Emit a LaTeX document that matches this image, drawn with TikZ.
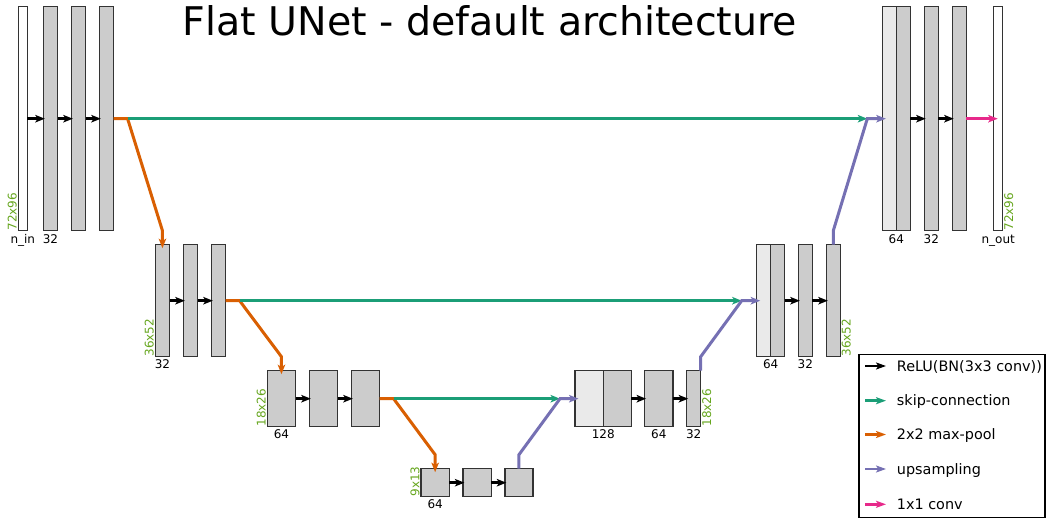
\documentclass[tikz,border=0pt]{standalone}
\usepackage{fontspec}
\setmainfont{DejaVu Sans}
\usetikzlibrary{arrows.meta,calc}

\definecolor{skipc}{HTML}{1B9E77}
\definecolor{poolc}{HTML}{D95F02}
\definecolor{upc}{HTML}{7570B3}
\definecolor{outc}{HTML}{E7298A}
\definecolor{dimc}{HTML}{66A61E}
\definecolor{featc}{HTML}{CCCCCC}
\definecolor{catc}{HTML}{EAEAEA}
\definecolor{edgec}{HTML}{333333}

\tikzset{
  fmapbox/.style={rectangle, draw=edgec, line width=1.4pt, inner sep=0pt, outer sep=0pt},
  tip/.style={-{Stealth[length=9.5pt,width=7.5pt,inset=2.4pt]}},
  conv/.style={tip, line width=2.9pt, draw=black, shorten >=-1.5pt},
  skipline/.style={tip, line width=3pt, draw=skipc},
  poolline/.style={tip, line width=3pt, draw=poolc, shorten >=-3.5pt},
  upline/.style={tip, line width=3pt, draw=upc, shorten >=-3.5pt},
  outline/.style={tip, line width=3pt, draw=outc, shorten >=-4pt},
  nlabel/.style={anchor=base, inner sep=0pt, font=\fontsize{12}{14}\selectfont},
  dimlabel/.style={rotate=90, inner xsep=0pt, inner ysep=1.2pt, text=dimc, font=\fontsize{12}{14}\selectfont},
  legtext/.style={anchor=base west, inner sep=0pt, font=\fontsize{14.4}{16}\selectfont},
  legtip/.style={-{Stealth[length=10pt,width=7pt,inset=2.4pt]}, line width=2.6pt},
}

% feature map box: name, x1, y1, x2, y2, fill
\newcommand\fmap[6]{%
  \pgfmathsetmacro\fmW{#4-#2}\pgfmathsetmacro\fmH{#5-#3}%
  \node[fmapbox, fill=#6, minimum width=\fmW pt, minimum height=\fmH pt] (#1) at ({(#2+#4)/2},{(#3+#5)/2}) {};}

\begin{document}
\begin{tikzpicture}[x=1pt, y=-1pt]
\useasboundingbox (0,0) rectangle (1052,518);

% title
\node[anchor=base, inner sep=0pt, font=\fontsize{39.5}{42}\selectfont] (title) at (490,36) {Flat UNet - default architecture};

% level 1 (72x96)
\fmap{nin}{18.3}{6.7}{27.3}{230.7}{white}
\fmap{e1a}{43.3}{6.7}{57.6}{230.7}{featc}
\fmap{e1b}{71.3}{6.7}{85.6}{230.7}{featc}
\fmap{e1c}{99.3}{6.7}{113.6}{230.7}{featc}
\fmap{d1cat}{882.3}{6.7}{896.3}{230.7}{catc}
\fmap{d1up}{896.3}{6.7}{910.3}{230.7}{featc}
\fmap{d1b}{924.2}{6.7}{938.3}{230.7}{featc}
\fmap{d1c}{952.2}{6.7}{966.3}{230.7}{featc}
\fmap{nout}{993.7}{6.7}{1002.7}{230.7}{white}

% level 2 (36x52)
\fmap{e2a}{155.3}{244.7}{169.6}{356.7}{featc}
\fmap{e2b}{183.3}{244.7}{197.6}{356.7}{featc}
\fmap{e2c}{211.3}{244.7}{225.6}{356.7}{featc}
\fmap{d2cat}{756.7}{244.7}{770.7}{356.7}{catc}
\fmap{d2up}{770.7}{244.7}{784.7}{356.7}{featc}
\fmap{d2b}{798.3}{244.7}{812.3}{356.7}{featc}
\fmap{d2c}{826.3}{244.7}{840.3}{356.7}{featc}

% level 3 (18x26)
\fmap{e3a}{267.3}{370.7}{295.6}{426.7}{featc}
\fmap{e3b}{309.3}{370.7}{337.6}{426.7}{featc}
\fmap{e3c}{351.3}{370.7}{379.6}{426.7}{featc}
\fmap{d3cat}{575}{370.7}{603.3}{426.7}{catc}
\fmap{d3up}{603.3}{370.7}{631.3}{426.7}{featc}
\fmap{d3b}{644.6}{370.7}{672.9}{426.7}{featc}
\fmap{d3c}{686.7}{370.7}{700.7}{426.7}{featc}

% level 4 (9x13)
\fmap{bna}{421}{468.7}{449.3}{496.7}{featc}
\fmap{bnb}{462.9}{468.7}{491.2}{496.7}{featc}
\fmap{bnc}{504.8}{468.7}{533.1}{496.7}{featc}

% 3x3 convolutions
\draw[conv] (nin.east) -- (e1a.west);
\draw[conv] (e1a.east) -- (e1b.west);
\draw[conv] (e1b.east) -- (e1c.west);
\draw[conv] (e2a.east) -- (e2b.west);
\draw[conv] (e2b.east) -- (e2c.west);
\draw[conv] (e3a.east) -- (e3b.west);
\draw[conv] (e3b.east) -- (e3c.west);
\draw[conv] (bna.east) -- (bnb.west);
\draw[conv] (bnb.east) -- (bnc.west);
\draw[conv] (d3up.east) -- (d3b.west);
\draw[conv] (d3b.east) -- (d3c.west);
\draw[conv] (d2up.east) -- (d2b.west);
\draw[conv] (d2b.east) -- (d2c.west);
\draw[conv] (d1up.east) -- (d1b.west);
\draw[conv] (d1b.east) -- (d1c.west);

% merge points in front of the concatenations
\coordinate (m1) at ($(d1cat.west)+(-15,0)$);
\coordinate (m2) at ($(d2cat.west)+(-15,0)$);
\coordinate (m3) at ($(d3cat.west)+(-15,0)$);

% max-pooling
\draw[poolline] (e1c.east) -- ++(14,0) coordinate (s1) -- ($(e2a.north)+(0,-14)$) -- (e2a.north);
\draw[poolline] (e2c.east) -- ++(14,0) coordinate (s2) -- ($(e3a.north)+(0,-14)$) -- (e3a.north);
\draw[poolline] (e3c.east) -- ++(14,0) coordinate (s3) -- ($(bna.north)+(0,-14)$) -- (bna.north);

% skip connections
\draw[skipline] (s1) -- (m1);
\draw[skipline] (s2) -- (m2);
\draw[skipline] (s3) -- (m3);

% upsampling
\draw[upline] (bnc.north) -- ++(0,-14) -- (m3) -- (d3cat.west);
\draw[upline] (d3c.north east) -- ++(0,-14) -- (m2) -- (d2cat.west);
\draw[upline] (d2c.north) -- ++(0,-14) -- (m1) -- (d1cat.west);

% 1x1 output convolution
\draw[outline] (d1c.east) -- (nout.west);

% channel counts
\node[nlabel] (c1) at ($(nin.south)+(0,12.5)$) {n\_in};
\node[nlabel] (c2) at ($(e1a.south)+(0,12.5)$) {32};
\node[nlabel] (c3) at ($(d1up.south west)+(0,12.5)$) {64};
\node[nlabel] (c4) at ($(d1b.south)+(0,12.5)$) {32};
\node[nlabel] (c5) at ($(nout.south)+(0,12.5)$) {n\_out};
\node[nlabel] (c6) at ($(e2a.south)+(0,12.2)$) {32};
\node[nlabel] (c7) at ($(d2up.south west)+(0,12.2)$) {64};
\node[nlabel] (c8) at ($(d2b.south)+(0,12.2)$) {32};
\node[nlabel] (c9) at ($(e3a.south)+(0,12)$) {64};
\node[nlabel] (c10) at ($(d3up.south west)+(0,12)$) {128};
\node[nlabel] (c11) at ($(d3b.south)+(0,12)$) {64};
\node[nlabel] (c12) at ($(d3c.south)+(0,12)$) {32};
\node[nlabel] (c13) at ($(bna.south)+(0,12)$) {64};

% spatial sizes
\node[dimlabel, anchor=south west] (s72a) at (nin.south west) {72x96};
\node[dimlabel, anchor=north west] (s72b) at (nout.south east) {72x96};
\node[dimlabel, anchor=south west] (s36a) at (e2a.south west) {36x52};
\node[dimlabel, anchor=north west] (s36b) at (d2c.south east) {36x52};
\node[dimlabel, anchor=south west] (s18a) at (e3a.south west) {18x26};
\node[dimlabel, anchor=north west] (s18b) at (d3c.south east) {18x26};
\node[dimlabel, anchor=south west] (s9) at (bna.south west) {9x13};

% legend
\node[draw=black, line width=1.4pt, fill=white, inner sep=0pt, minimum width=186pt, minimum height=162.7pt, anchor=north west] (legend) at (858.3,354) {};
\foreach \yy/\col/\txt [count=\k] in {366/black/{ReLU(BN(3x3 conv))}, 400.7/skipc/{skip-connection}, 434.5/poolc/{2x2 max-pool}, 469/upc/{upsampling}, 504.3/outc/{1x1 conv}} {
  \coordinate (la\k) at (865,\yy);
  \coordinate (lb\k) at (886,\yy);
  \draw[legtip, draw=\col] (la\k) -- (lb\k);
  \node[legtext] (lt\k) at (896.7,\yy+5.3) {\txt};
}
\end{tikzpicture}
\end{document}
